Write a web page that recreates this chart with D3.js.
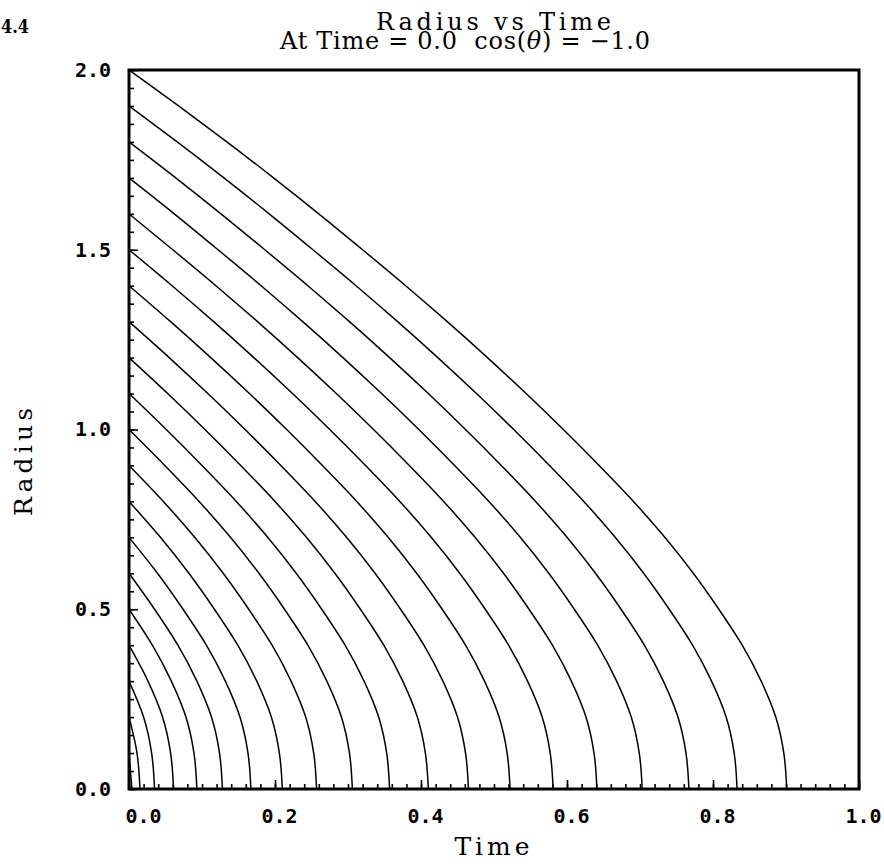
<!DOCTYPE html>
<html>
<head>
<meta charset="utf-8">
<script src="https://cdn.jsdelivr.net/npm/d3@7/dist/d3.min.js"></script>
<style>
  body { margin: 0; background: #fff; }
</style>
</head>
<body>
<div id="chart"></div>
<script>
// radius levels (left axis), trajectories start at each level 2.0 ... 0.1
const radiusLevels = [2.0, 1.9, 1.8, 1.7, 1.6, 1.5, 1.4, 1.3, 1.2, 1.1, 1.0,
                      0.9, 0.8, 0.7, 0.6, 0.5, 0.4, 0.3, 0.2, 0.1, 0.0]
// time at which each trajectory passes its radius levels, from its start down to 0
const timeAtLevel = [
    [0, 0.068, 0.134, 0.198, 0.260, 0.320, 0.379, 0.436, 0.491, 0.544, 0.595, 0.644, 0.691, 0.734, 0.773, 0.808, 0.840, 0.866, 0.886, 0.897, 0.901],
    [0, 0.066, 0.130, 0.192, 0.252, 0.311, 0.368, 0.423, 0.476, 0.527, 0.576, 0.623, 0.666, 0.705, 0.740, 0.772, 0.798, 0.818, 0.829, 0.833],
    [0, 0.064, 0.126, 0.186, 0.245, 0.302, 0.357, 0.410, 0.461, 0.510, 0.557, 0.600, 0.639, 0.674, 0.706, 0.732, 0.752, 0.763, 0.767],
    [0, 0.062, 0.122, 0.181, 0.238, 0.293, 0.346, 0.397, 0.446, 0.493, 0.536, 0.575, 0.610, 0.642, 0.668, 0.688, 0.699, 0.703],
    [0, 0.060, 0.119, 0.176, 0.231, 0.284, 0.335, 0.384, 0.431, 0.474, 0.513, 0.548, 0.580, 0.606, 0.626, 0.637, 0.641],
    [0, 0.059, 0.116, 0.171, 0.224, 0.275, 0.324, 0.371, 0.414, 0.453, 0.488, 0.520, 0.546, 0.566, 0.577, 0.581],
    [0, 0.057, 0.112, 0.165, 0.216, 0.265, 0.312, 0.355, 0.394, 0.429, 0.461, 0.487, 0.507, 0.518, 0.522],
    [0, 0.055, 0.108, 0.159, 0.208, 0.255, 0.298, 0.337, 0.372, 0.404, 0.430, 0.450, 0.461, 0.465],
    [0, 0.053, 0.104, 0.153, 0.200, 0.243, 0.282, 0.317, 0.349, 0.375, 0.395, 0.406, 0.410],
    [0, 0.051, 0.100, 0.147, 0.190, 0.229, 0.264, 0.296, 0.322, 0.342, 0.353, 0.357],
    [0, 0.049, 0.096, 0.139, 0.178, 0.213, 0.245, 0.271, 0.291, 0.302, 0.306],
    [0, 0.047, 0.090, 0.129, 0.164, 0.196, 0.222, 0.242, 0.253, 0.257],
    [0, 0.043, 0.082, 0.117, 0.149, 0.175, 0.195, 0.206, 0.210],
    [0, 0.039, 0.074, 0.106, 0.132, 0.152, 0.163, 0.167],
    [0, 0.035, 0.067, 0.093, 0.113, 0.124, 0.128],
    [0, 0.032, 0.058, 0.078, 0.089, 0.093],
    [0, 0.026, 0.046, 0.057, 0.061],
    [0, 0.020, 0.031, 0.035],
    [0, 0.011, 0.015],
    [0, 0.004]
]
const xTicks = [0.0, 0.2, 0.4, 0.6, 0.8, 1.0]
const yTicks = [0.0, 0.5, 1.0, 1.5, 2.0]

const W = 884, H = 867
const margin = {top: 70, right: 25, bottom: 78, left: 129},
    w = W - margin.left - margin.right,
    h = H - margin.top - margin.bottom

const svg = d3.select("#chart")
    .append("svg")
    .attr("width", W)
    .attr("height", H)
    .style("background", "#fff")

const g = svg.append("g")
    .attr("transform", `translate(${margin.left}, ${margin.top})`)

const x = d3.scaleLinear().domain([0, 1]).range([0, w])
const y = d3.scaleLinear().domain([0, 2]).range([h, 0])

// trajectories
const curves = timeAtLevel.map((row, i) =>
    row.map((t, j) => ({t: t, r: radiusLevels[i + j]})))

const line = d3.line()
    .x(d => x(d.t))
    .y(d => y(d.r))
    .curve(d3.curveMonotoneY)

g.append("g")
    .selectAll("path")
    .data(curves)
    .join("path")
    .attr("d", line)
    .attr("fill", "none")
    .attr("stroke", "#000")
    .attr("stroke-width", 1.5)

// minor ticks (inward)
const xMinor = g.append("g")
    .attr("transform", `translate(0, ${h})`)
    .call(d3.axisBottom(x).tickValues(d3.range(0, 1.0001, 0.02)).tickSize(-5).tickFormat(""))
const yMinor = g.append("g")
    .call(d3.axisLeft(y).tickValues(d3.range(0, 2.0001, 0.05)).tickSize(-5).tickFormat(""))

// major ticks + labels
const xAxis = g.append("g")
    .attr("transform", `translate(0, ${h})`)
    .call(d3.axisBottom(x).tickValues(xTicks).tickSize(-9).tickPadding(20).tickFormat(d3.format(".1f")))
const yAxis = g.append("g")
    .call(d3.axisLeft(y).tickValues(yTicks).tickSize(-9).tickPadding(18).tickFormat(d3.format(".1f")))

for (const ax of [xMinor, yMinor, xAxis, yAxis]) {
    ax.select(".domain").remove()
    ax.selectAll("line").attr("stroke", "#000").attr("stroke-width", 1.6)
}
xAxis.selectAll("text")
    .attr("dx", d => d === 0 ? 14 : 4)
svg.selectAll(".tick text")
    .attr("fill", "#000")
    .style("font-family", "'DejaVu Sans Mono', monospace")
    .style("font-weight", "bold")
    .style("font-size", "20px")

// frame
g.append("rect")
    .attr("x", 0)
    .attr("y", 0)
    .attr("width", w)
    .attr("height", h)
    .attr("fill", "none")
    .attr("stroke", "#000")
    .attr("stroke-width", 3)

// titles
const serif = "'DejaVu Serif', serif"
svg.append("text")
    .attr("x", 376)
    .attr("y", 30)
    .attr("textLength", 235)
    .attr("lengthAdjust", "spacing")
    .style("font-family", serif)
    .style("font-size", "24px")
    .text("Radius vs Time")

const t2 = svg.append("text")
    .attr("x", 280)
    .attr("y", 49)
    .attr("textLength", 370)
    .attr("lengthAdjust", "spacing")
    .style("font-family", serif)
    .style("font-size", "24px")
    .style("white-space", "pre")
t2.append("tspan").text("At Time = 0.0  cos(")
t2.append("tspan").style("font-style", "italic").text("θ")
t2.append("tspan").text(") = −1.0")

svg.append("text")
    .attr("x", 492)
    .attr("y", 855)
    .attr("text-anchor", "middle")
    .attr("textLength", 75)
    .attr("lengthAdjust", "spacing")
    .style("font-family", serif)
    .style("font-size", "25px")
    .text("Time")

svg.append("text")
    .attr("transform", "translate(32, 462) rotate(-90)")
    .attr("text-anchor", "middle")
    .attr("textLength", 108)
    .attr("lengthAdjust", "spacing")
    .style("font-family", serif)
    .style("font-size", "25px")
    .text("Radius")

svg.append("text")
    .attr("x", 1)
    .attr("y", 33)
    .attr("textLength", 28)
    .attr("lengthAdjust", "spacingAndGlyphs")
    .style("font-family", serif)
    .style("font-weight", "bold")
    .style("font-size", "19px")
    .text("4.4")
</script>
</body>
</html>
